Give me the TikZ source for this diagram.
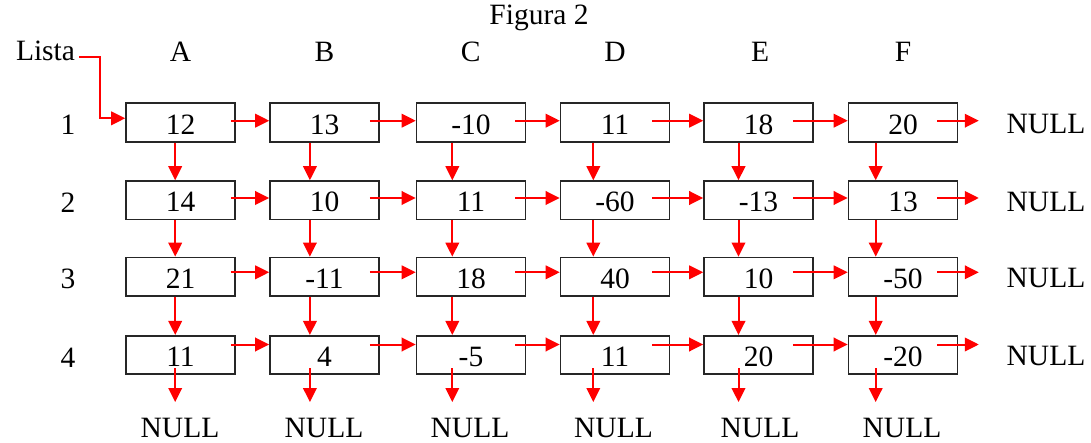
\documentclass[tikz,border=0pt]{standalone}
\usepackage{fontspec}
\setmainfont{Liberation Serif}
\usetikzlibrary{arrows.meta}
\newcommand\figfont{\fontsize{29.5}{35}\selectfont}
\begin{document}
\begin{tikzpicture}[x=1pt,y=1pt,
  cell/.style={draw=black!85, line width=1.6pt, minimum width=109pt,
    minimum height=38.5pt, inner sep=0pt, text height=23.4pt, text depth=0pt,
    font=\figfont},
  lbl/.style={inner sep=0pt, font=\figfont},
  link/.style={draw=red, line width=2pt, -{Triangle[length=14pt,width=13.5pt]}}]
\useasboundingbox (0,0) rectangle (1091,-443);

% title, list head and column / row labels
\node[lbl, anchor=base] (title) at (539,-25) {Figura 2};
\node[lbl, anchor=base] (lista) at (45.5,-61) {Lista};
\foreach \n/\x in {A/180.5,B/324.5,C/470.7,D/615,E/760,F/903}
  \node[lbl, anchor=base] (col\n) at (\x,-61.5) {\n};
\foreach \r/\y in {1/125,2/202.8,3/279.2,4/357.5}
  \node[lbl] (row\r) at (68,-\y) {\r};

% matrix cells: n<row><column>
\node[cell] (n11) at (180.5,-122.5) {12};
\node[cell] (n12) at (324.5,-122.5) {13};
\node[cell] (n13) at (471,-122.5) {-10};
\node[cell] (n14) at (615,-122.5) {11};
\node[cell] (n15) at (758.5,-122.5) {18};
\node[cell] (n16) at (903,-122.5) {20};

\node[cell] (n21) at (180.5,-200.3) {14};
\node[cell] (n22) at (324.5,-200.3) {10};
\node[cell] (n23) at (471,-200.3) {11};
\node[cell] (n24) at (615,-200.3) {-60};
\node[cell] (n25) at (758.5,-200.3) {-13};
\node[cell] (n26) at (903,-200.3) {13};

\node[cell] (n31) at (180.5,-276.7) {21};
\node[cell] (n32) at (324.5,-276.7) {-11};
\node[cell] (n33) at (471,-276.7) {18};
\node[cell] (n34) at (615,-276.7) {40};
\node[cell] (n35) at (758.5,-276.7) {10};
\node[cell] (n36) at (903,-276.7) {-50};

\node[cell] (n41) at (180.5,-355) {11};
\node[cell] (n42) at (324.5,-355) {4};
\node[cell] (n43) at (471,-355) {-5};
\node[cell] (n44) at (615,-355) {11};
\node[cell] (n45) at (758.5,-355) {20};
\node[cell] (n46) at (903,-355) {-20};

% NULL terminators
\foreach \r/\y in {1/123.7,2/201.5,3/277.9,4/356.2}
  \node[lbl] (nullr\r) at (1046,-\y) {NULL};
\foreach \c/\x in {1/180,2/324,3/470,4/613.5,5/760,6/902}
  \node[lbl] (nullb\c) at (\x,-427.5) {NULL};

% head pointer
\draw[link] ([xshift=4pt,yshift=4.3pt]lista.base east) -- ++(21,0)
  |- ([yshift=4.2pt]n11.west);

% row links
\foreach \r/\dy in {1/1.8,2/2.3,3/4.4,4/10.5}{
  \foreach \c/\n/\o in {1/2/5,2/3/10,3/4/11,4/5/18,5/6/21}
    \draw[link] ([xshift=-\o pt,yshift=\dy pt]n\r\c.east) -- ([yshift=\dy pt]n\r\n.west);
  \draw[link] ([xshift=-21pt,yshift=\dy pt]n\r6.east) -- ++(41.5,0) coordinate (endr\r);
}

% column links
\foreach \c/\d in {1/50,2/40.7,3/36.6,4/33.6,5/35.3,6/28}{
  \foreach \r/\n in {1/2,2/3,3/4}
    \draw[link] ([xshift=\d pt]n\r\c.south west) -- ([xshift=\d pt]n\n\c.north west);
  \draw[link] ([xshift=\d pt,yshift=7pt]n4\c.south west) -- ++(0,-34) coordinate (endb\c);
}
\end{tikzpicture}
\end{document}
